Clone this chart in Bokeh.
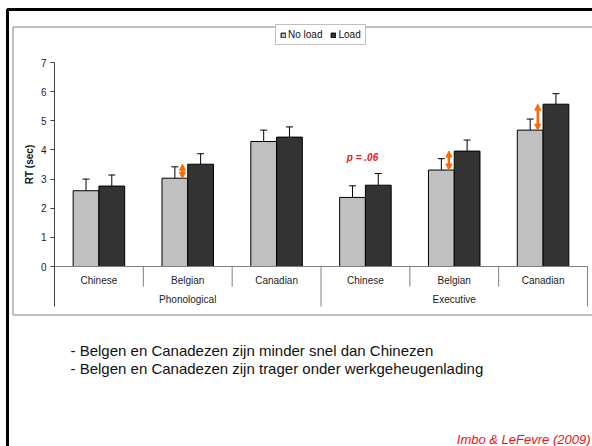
import numpy as np
from bokeh.plotting import figure
from bokeh.models import (ColumnDataSource, Range1d, FixedTicker, Whisker, TeeHead,
                          Arrow, NormalHead, Label, Legend, LegendItem)
from bokeh.embed import file_html
from bokeh.resources import INLINE
from bokeh.core.properties import value

# ---- data: mean RT (sec) and standard errors per task / nationality ----
tasks = ["Phonological", "Executive"]
groups = ["Chinese", "Belgian", "Canadian"]
no_load = [2.60, 3.03, 4.29, 2.37, 3.31, 4.68]
no_load_se = [0.40, 0.39, 0.39, 0.40, 0.39, 0.38]
load = [2.76, 3.51, 4.44, 2.79, 3.96, 5.57]
load_se = [0.38, 0.36, 0.35, 0.40, 0.38, 0.36]
load_effect = [1, 4, 5]          # conditions with a marked load effect
y_ticks = [0, 1, 2, 3, 4, 5, 6, 7]
notes = ["- Belgen en Canadezen zijn minder snel dan Chinezen",
         "- Belgen en Canadezen zijn trager onder werkgeheugenlading"]
citation = "Imbo & LeFevre (2009)"
trend_note = "p = .06"

# ---- page geometry ----
W, H = 592, 446
AXIS_PX = 54       # page column of the value axis (category 0 starts here)
X_PX = 88.83       # pixels per category
Y_PX = 29.14       # pixels per second
ZERO_PY = 266      # page row of RT = 0
FONT = "Liberation Sans"
NL_COLOR, L_COLOR = "#C0C0C0", "#333333"
ORANGE = "#FF6A00"
AXIS_GRAY = "#7F7F7F"


def dx(px):
    return (px - AXIS_PX) / X_PX


def dy(py):
    return (ZERO_PY - py) / Y_PX


# the frame spans the whole page; the value axis is pinned at x = 0
p = figure(width=W, height=H,
           x_range=Range1d(dx(0), dx(W)), y_range=Range1d(dy(H), dy(0)),
           output_backend="svg", toolbar_location=None, x_axis_location=None,
           min_border_left=0, min_border_right=0, min_border_top=0,
           min_border_bottom=0, outline_line_color=None,
           background_fill_color="white", border_fill_color="white")
p.grid.visible = False

# ---- slide border and chart frame ----
p.multi_line(xs=[[dx(7), dx(7), dx(W + 20)]], ys=[[dy(H + 20), dy(9), dy(9)]],
             line_color="black", line_width=3)
p.multi_line(xs=[[dx(W + 10), dx(12.5), dx(12.5), dx(W + 10)]],
             ys=[[dy(26.5), dy(26.5), dy(314.5), dy(314.5)]],
             line_color=AXIS_GRAY, line_width=1)

# ---- y axis ----
ax = p.yaxis[0]
ax.fixed_location = 0
ax.ticker = FixedTicker(ticks=y_ticks)
ax.bounds = (dy(306), max(y_ticks))
ax.axis_line_color = "#404040"
ax.major_tick_line_color = "#404040"
ax.major_tick_out = 4
ax.major_tick_in = 0
ax.minor_tick_line_color = None
ax.major_label_standoff = 4
ax.major_label_text_font = FONT
ax.major_label_text_font_size = "10px"
ax.major_label_text_color = "#222222"

p.add_layout(Label(x=dx(29), y=max(y_ticks) / 2, text="RT (sec)", angle=np.pi / 2,
                   text_align="center", text_baseline="middle", text_font=FONT,
                   text_font_size="10px", text_font_style="bold",
                   text_color="#111111"))

# ---- bars ----
n = len(no_load)
centers = np.arange(n) + 0.5
half = 0.145
src = ColumnDataSource(dict(
    x_nl=centers - half, x_l=centers + half,
    no_load=no_load, load=load,
    nl_lo=np.array(no_load) - np.array(no_load_se),
    nl_hi=np.array(no_load) + np.array(no_load_se),
    l_lo=np.array(load) - np.array(load_se),
    l_hi=np.array(load) + np.array(load_se),
))
r_nl = p.vbar(x="x_nl", top="no_load", bottom=0, width=2 * half, source=src,
              fill_color=NL_COLOR, line_color="black", line_width=1)
r_l = p.vbar(x="x_l", top="load", bottom=0, width=2 * half, source=src,
             fill_color=L_COLOR, line_color="black", line_width=1)

for base, lo, hi in (("x_nl", "nl_lo", "nl_hi"), ("x_l", "l_lo", "l_hi")):
    p.add_layout(Whisker(source=src, base=base, lower=lo, upper=hi,
                         line_color="black", line_width=1,
                         upper_head=TeeHead(size=7, line_color="black"),
                         lower_head=TeeHead(size=7, line_color="black")))

# ---- load-effect arrows ----
for i in load_effect:
    xa = centers[i] - 0.06
    p.add_layout(Arrow(x_start=xa, y_start=no_load[i], x_end=xa, y_end=load[i],
                       line_color=ORANGE, line_width=2.5,
                       start=NormalHead(size=6, fill_color=ORANGE, line_color=ORANGE),
                       end=NormalHead(size=6, fill_color=ORANGE, line_color=ORANGE)))

p.add_layout(Label(x=dx(362), y=dy(156.5), text=trend_note, text_align="center",
                   text_baseline="middle", text_font=FONT, text_font_size="10px",
                   text_font_style="bold italic", text_color="#E8141C"))

# ---- category axis (two levels) ----
n_groups = len(groups)
p.segment(x0=[0], y0=[0], x1=[n], y1=[0], line_color=AXIS_GRAY, line_width=1)
inner = [k for k in range(1, n) if k % n_groups != 0]
outer = list(range(n_groups, n + 1, n_groups))
p.segment(x0=inner, y0=0, x1=inner, y1=dy(286), line_color=AXIS_GRAY, line_width=1)
p.segment(x0=outer, y0=0, x1=outer, y1=dy(306), line_color=AXIS_GRAY, line_width=1)
p.text(x=centers, y=dy(280), text=groups * len(tasks), text_align="center",
       text_baseline="middle", text_font=value(FONT), text_font_size="10px",
       text_color="#222222")
p.text(x=[n_groups * (k + 0.5) for k in range(len(tasks))], y=dy(299), text=tasks,
       text_align="center", text_baseline="middle", text_font=value(FONT),
       text_font_size="10px", text_color="#222222")

# ---- legend ----
legend = Legend(items=[LegendItem(label="No load", renderers=[r_nl]),
                       LegendItem(label="Load", renderers=[r_l])],
                orientation="horizontal", location=(275, H - 45),
                label_text_font=FONT, label_text_font_size="10px",
                label_text_color="#111111", glyph_width=6, glyph_height=6,
                label_height=9, label_width=10, label_standoff=2, spacing=8,
                padding=4, margin=0, border_line_color=AXIS_GRAY,
                border_line_width=1, background_fill_color="white",
                background_fill_alpha=1)
p.add_layout(legend)

# ---- slide text ----
for k, line in enumerate(notes):
    p.add_layout(Label(x=dx(70), y=dy(350 + 17.5 * k), text=line, text_align="left",
                       text_baseline="middle", text_font=FONT, text_font_size="15px",
                       text_color="#111111"))
p.add_layout(Label(x=dx(590), y=dy(439), text=citation, text_align="right",
                   text_baseline="alphabetic", text_font=FONT, text_font_size="13px",
                   text_font_style="italic", text_color="#E8141C"))

open("out.html", "w").write(file_html(p, INLINE))
